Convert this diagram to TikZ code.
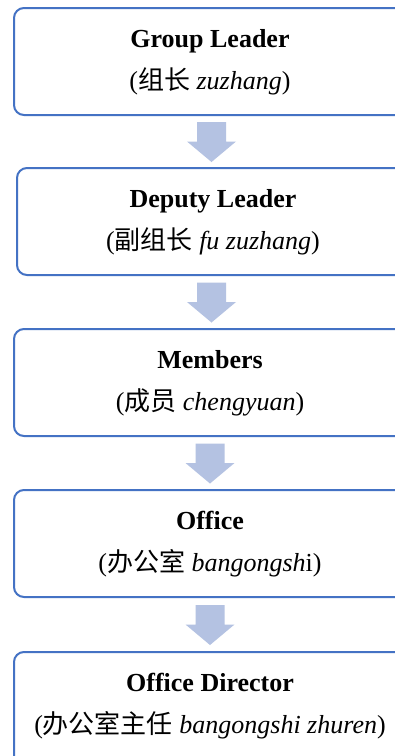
\documentclass[tikz,border=0pt]{standalone}
\usepackage{fontspec}
\setmainfont{Liberation Serif}
\newfontfamily\cjk{Noto Sans CJK SC}
\usetikzlibrary{calc}
\definecolor{boxblue}{HTML}{4472C4}
\definecolor{arrowblue}{HTML}{B4C2E2}
\tikzset{
  box/.style={minimum height=107pt, anchor=north west, inner sep=0pt, outer sep=0pt},
  boxline/.style={draw=boxblue, line width=2pt, rounded corners=10pt},
  titletext/.style={anchor=base, inner sep=0pt, font=\fontsize{26}{30}\selectfont\bfseries},
  subtext/.style={anchor=base, inner sep=0pt, font=\fontsize{26}{30}\selectfont},
  blockarrow/.pic={\fill[arrowblue] (-14.5,-19.5) -- (14.5,-19.5) -- (14.5,0) -- (24.5,0)
      -- (0,20.5) -- (-24.5,0) -- (-14.5,0) -- cycle;}
}
\begin{document}
\begin{tikzpicture}[x=1pt,y=-1pt]
\useasboundingbox (0,0) rectangle (395,756);
\fill[white] (0,0) rectangle (395,756);
% boxes (their right side lies beyond the picture's edge)
\node[box, minimum width=381pt] (b1) at (14,8) {};
\node[box, minimum width=378pt] (b2) at (17,168) {};
\node[box, minimum width=381pt] (b3) at (14,329) {};
\node[box, minimum width=381pt] (b4) at (14,490) {};
\node[box, minimum width=381pt, minimum height=104pt] (b5) at (14,652) {};
\draw[boxline] (b1.north east) -- (b1.north west) -- (b1.south west) -- (b1.south east);
\draw[boxline] (b2.north east) -- (b2.north west) -- (b2.south west) -- (b2.south east);
\draw[boxline] (b3.north east) -- (b3.north west) -- (b3.south west) -- (b3.south east);
\draw[boxline] (b4.north east) -- (b4.north west) -- (b4.south west) -- (b4.south east);
\draw[boxline] (b5.north east) -- (b5.north west) -- (b5.south west);
% texts
\node[titletext] (t1) at ($(b1.north west)+(196,39.5)$) {Group Leader};
\node[subtext] (s1) at ($(b1.north west)+(196,81)$) {({\cjk 组长} \textit{zuzhang})};
\node[titletext] (t2) at ($(b2.north west)+(196,39.5)$) {Deputy Leader};
\node[subtext] (s2) at ($(b2.north west)+(196,81)$) {({\cjk 副组长} \textit{fu zuzhang})};
\node[titletext] (t3) at ($(b3.north west)+(196,39.5)$) {Members};
\node[subtext] (s3) at ($(b3.north west)+(196,81)$) {({\cjk 成员} \textit{chengyuan})};
\node[titletext] (t4) at ($(b4.north west)+(196,39.5)$) {Office};
\node[subtext] (s4) at ($(b4.north west)+(196,81)$) {({\cjk 办公室} \textit{bangongsh}i)};
\node[titletext] (t5) at ($(b5.north west)+(196,39.5)$) {Office Director};
\node[subtext] (s5) at ($(b5.north west)+(196,81)$) {({\cjk 办公室主任} \textit{bangongshi zhuren})};
% arrows (between boxes)
\coordinate (a1) at ($(b1.south west)!0.5!(b2.north west)+(196,0)$);
\coordinate (a2) at ($(b2.south west)!0.5!(b3.north west)+(196,0)$);
\coordinate (a3) at ($(b3.south west)!0.5!(b4.north west)+(196,0)$);
\coordinate (a4) at ($(b4.south west)!0.5!(b5.north west)+(196,0)$);
\pic at (a1) {blockarrow};
\pic at (a2) {blockarrow};
\pic at (a3) {blockarrow};
\pic at (a4) {blockarrow};
\end{tikzpicture}
\end{document}
